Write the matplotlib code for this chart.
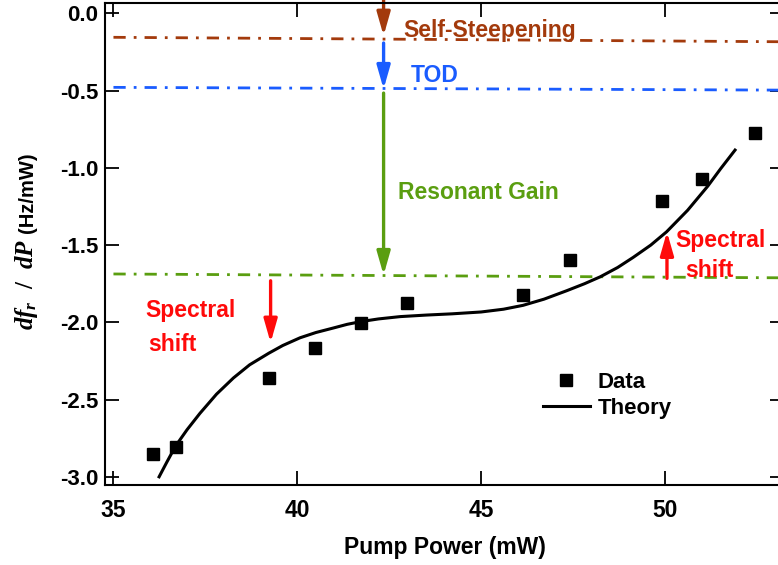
import matplotlib
matplotlib.use("Agg")
import matplotlib.pyplot as plt
from matplotlib.patches import FancyArrowPatch

plt.rcParams['font.family'] = ['Liberation Sans', 'DejaVu Sans']
plt.rcParams['font.weight'] = 'bold'
plt.rcParams['mathtext.fontset'] = 'custom'
plt.rcParams['mathtext.it'] = 'Liberation Serif:italic:bold'
plt.rcParams['mathtext.rm'] = 'Liberation Serif:bold'
plt.rcParams['mathtext.bf'] = 'Liberation Serif:bold'

# ---- data ----
data_x = [36.07, 36.69, 39.22, 40.48, 41.73, 42.98, 46.13, 47.41, 49.90, 50.98, 52.43]
data_y = [-2.852, -2.805, -2.362, -2.168, -2.006, -1.873, -1.823, -1.594, -1.213, -1.072, -0.773]

theory_x = [36.24, 36.45, 36.69, 37.0, 37.35, 37.8, 38.26, 38.7, 39.22, 39.6, 40.07, 40.5,
            40.97, 41.35, 41.73, 42.2, 42.79, 43.5, 44.2, 44.99, 45.6, 46.13, 46.7, 47.32,
            47.8, 48.23, 48.7, 49.12, 49.6, 50.03, 50.6, 51.15, 51.5, 51.89]
theory_y = [-3.000, -2.905, -2.800, -2.695, -2.589, -2.465, -2.360, -2.275, -2.200, -2.150,
            -2.100, -2.066, -2.037, -2.013, -1.995, -1.978, -1.963, -1.953, -1.945, -1.933,
            -1.915, -1.890, -1.850, -1.795, -1.750, -1.705, -1.645, -1.580, -1.500, -1.414,
            -1.275, -1.118, -1.005, -0.885]

ref_x = [35.0, 53.3]
ss_y = [-0.155, -0.184]
tod_y = [-0.479, -0.497]
gain_y = [-1.687, -1.712]

x_ticks = [35, 40, 45, 50]
y_ticks = [0.0, -0.5, -1.0, -1.5, -2.0, -2.5, -3.0]

brown = '#A33A0C'
blue = '#1A5CFF'
green = '#5A9E10'
red = '#FF0A0A'

fig = plt.figure(figsize=(7.78, 5.65), dpi=100)
ax = fig.add_axes([105/778, 1-485/565, (784-105)/778, (485-2.7)/565])
ax.set_xlim(34.77, 53.22)
ax.set_ylim(-3.053, 0.069)

dd = (0, (4.4, 2.9, 1.0, 2.9))
ax.plot(ref_x, ss_y, color=brown, lw=2.0, ls=dd, clip_on=False)
ax.plot(ref_x, tod_y, color=blue, lw=2.0, ls=dd, clip_on=False)
ax.plot(ref_x, gain_y, color=green, lw=2.0, ls=dd, clip_on=False)

ax.plot(data_x, data_y, 's', color='black', ms=9, ls='none', label='Data')
ax.plot(theory_x, theory_y, '-', color='black', lw=2.2, label='Theory')

def arrow(x, y0, y1, c):
    a = FancyArrowPatch((x, y0), (x, y1),
                        arrowstyle='-|>,head_length=14,head_width=4.0',
                        mutation_scale=1, color=c, lw=2.4, shrinkA=0, shrinkB=0,
                        clip_on=False)
    ax.add_patch(a)

arrow(42.34, 0.086, -0.145, brown)
arrow(42.34, -0.192, -0.49, blue)
arrow(42.34, -0.516, -1.694, green)
arrow(39.27, -1.731, -2.132, red)
arrow(50.04, -1.715, -1.414, red)

fs = 16.5
ax.text(42.87, -0.155, 'Self-Steepening', color=brown, fontsize=fs, fontweight='bold', va='baseline')
ax.text(43.08, -0.443, 'TOD', color=blue, fontsize=fs, fontweight='bold', va='baseline')
ax.text(42.74, -1.204, 'Resonant Gain', color=green, fontsize=fs, fontweight='bold', va='baseline')
ax.text(35.88, -1.966, 'Spectral', color=red, fontsize=fs, fontweight='bold', va='baseline')
ax.text(35.94, -2.185, 'shift', color=red, fontsize=fs, fontweight='bold', va='baseline')
ax.text(50.26, -1.513, 'Spectral', color=red, fontsize=fs, fontweight='bold', va='baseline')
ax.text(50.53, -1.707, 'shift', color=red, fontsize=fs, fontweight='bold', va='baseline')

ax.set_xticks(x_ticks)
ax.set_yticks(y_ticks)
ax.set_yticklabels([f'{v:.1f}' for v in y_ticks])
ax.tick_params(direction='in', length=10, width=1.3, top=True, right=True)
ax.tick_params(axis='x', labelsize=16.5, pad=10)
ax.tick_params(axis='y', labelsize=16, pad=5)
for s in ax.spines.values():
    s.set_linewidth(1.5)

ax.set_xlabel('Pump Power (mW)', fontsize=16.5, fontweight='bold', labelpad=10)

# y label in two parts (math part in serif italic, unit part in sans)
H = 565.0
t1 = fig.text(33/778, 1-330/H, r'$df_r\ \ /\ \ dP$', fontsize=18, rotation=90,
              rotation_mode='anchor', ha='left', va='baseline')
fig.canvas.draw()
bb = t1.get_window_extent()
t2 = fig.text(33/778, (bb.y1 + 6)/H, '(Hz/mW)', fontsize=14.5, fontweight='bold', rotation=90,
              rotation_mode='anchor', ha='left', va='baseline')

leg = ax.legend(loc='upper left', bbox_to_anchor=(0.645, 0.234), frameon=False,
                fontsize=16, handlelength=2.1, handletextpad=0.35, labelspacing=0.2,
                borderpad=0, borderaxespad=0)

fig.savefig('out.png', dpi=100)
